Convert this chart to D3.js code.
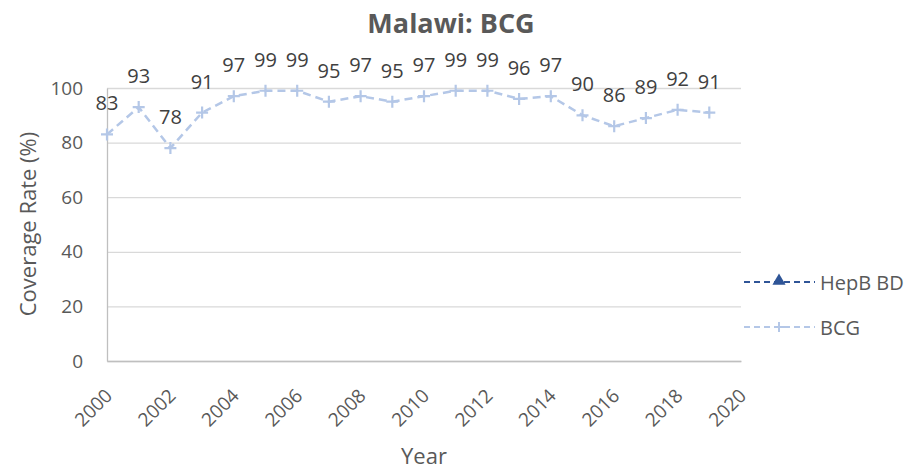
<!DOCTYPE html>
<html>
<head>
<meta charset="utf-8">
<script src="https://cdn.jsdelivr.net/npm/d3@7"></script>
<style>
  html, body { margin: 0; padding: 0; background: #fff; }
  svg { display: block; font-family: "Open Sans", "Noto Sans", sans-serif; }
</style>
</head>
<body>
<svg id="chart" width="908" height="469"></svg>
<script>
// Malawi BCG coverage by year
const years = [2000, 2001, 2002, 2003, 2004, 2005, 2006, 2007, 2008, 2009,
               2010, 2011, 2012, 2013, 2014, 2015, 2016, 2017, 2018, 2019];
const bcg = [83, 93, 78, 91, 97, 99, 99, 95, 97, 95,
             97, 99, 99, 96, 97, 90, 86, 89, 92, 91];
const hepbBD = []; // no reported values
const yTicks = [0, 20, 40, 60, 80, 100];
const xTicks = [2000, 2002, 2004, 2006, 2008, 2010, 2012, 2014, 2016, 2018, 2020];
const seriesNames = ["HepB BD", "BCG"];

const svg = d3.select("#chart");
const m = { left: 107, right: 741, top: 88, bottom: 361 };

const x = d3.scaleLinear().domain([2000, 2020]).range([m.left, m.right]);
const y = d3.scaleLinear().domain([0, 100]).range([m.bottom, m.top]);

// Title
svg.append("text")
  .attr("x", 451).attr("y", 33)
  .attr("text-anchor", "middle")
  .attr("font-size", 27).attr("font-weight", "bold")
  .attr("fill", "#595959")
  .text("Malawi: BCG");

// Horizontal gridlines
svg.append("g")
  .attr("transform", `translate(${m.left},0)`)
  .call(d3.axisLeft(y).tickValues(yTicks).tickSize(-(m.right - m.left)).tickFormat(""))
  .call(g => g.select(".domain").remove())
  .call(g => g.selectAll("line").attr("stroke", "#d9d9d9").attr("stroke-width", 1.3));

// Y axis labels
const yAxis = svg.append("g")
  .attr("transform", `translate(${m.left},0)`)
  .call(d3.axisLeft(y).tickValues(yTicks).tickSize(0).tickPadding(24));
yAxis.select(".domain").attr("stroke", "#bfbfbf").attr("stroke-width", 1.3);
yAxis.selectAll("text").attr("font-size", 19).attr("fill", "#595959")
  .attr("font-family", "Open Sans");

// X axis
const xAxis = svg.append("g")
  .attr("transform", `translate(0,${m.bottom})`)
  .call(d3.axisBottom(x).tickValues(xTicks).tickFormat(d3.format("d")).tickSize(0));
xAxis.select(".domain").attr("stroke", "#bfbfbf").attr("stroke-width", 1.3);
xAxis.selectAll("text")
  .attr("font-size", 19).attr("fill", "#595959").attr("font-family", "Open Sans")
  .attr("text-anchor", "end")
  .attr("dy", null)
  .attr("transform", "translate(1,31) rotate(-45)")
  .attr("y", 0)
  .attr("dominant-baseline", "central");

// Axis titles
svg.append("text")
  .attr("transform", "translate(36,224) rotate(-90)")
  .attr("text-anchor", "middle")
  .attr("font-size", 22).attr("fill", "#595959")
  .text("Coverage Rate (%)");

svg.append("text")
  .attr("x", 424).attr("y", 464)
  .attr("text-anchor", "middle")
  .attr("font-size", 22).attr("fill", "#595959")
  .text("Year");

// BCG line
const bcgColor = "#b4c7e7";
const hepColor = "#2f5597";
const pts = years.map((yr, i) => ({ yr, v: bcg[i] }));

svg.append("path")
  .datum(pts)
  .attr("fill", "none")
  .attr("stroke", bcgColor)
  .attr("stroke-width", 2.5)
  .attr("stroke-dasharray", "8,5")
  .attr("d", d3.line().x(d => x(d.yr)).y(d => y(d.v)));

// Plus markers
svg.append("g").selectAll("path")
  .data(pts).join("path")
  .attr("d", d => {
    const cx = x(d.yr), cy = y(d.v), r = 6;
    return `M${cx - r},${cy}H${cx + r}M${cx},${cy - r}V${cy + r}`;
  })
  .attr("stroke", bcgColor).attr("stroke-width", 2.2);

// Data labels
svg.append("g").selectAll("text")
  .data(pts).join("text")
  .attr("x", d => x(d.yr))
  .attr("y", d => y(d.v) - 24)
  .attr("text-anchor", "middle")
  .attr("font-size", 20).attr("fill", "#404040")
  .text(d => d.v);

// Legend
const legend = svg.append("g");
const legItems = [
  { name: seriesNames[0], color: hepColor, y: 282, marker: "tri" },
  { name: seriesNames[1], color: bcgColor, y: 327, marker: "plus" }
];
legItems.forEach(it => {
  legend.append("line")
    .attr("x1", 744).attr("x2", 815).attr("y1", it.y).attr("y2", it.y)
    .attr("stroke", it.color).attr("stroke-width", 2.2)
    .attr("stroke-dasharray", "6,4");
  if (it.marker === "tri") {
    legend.append("path")
      .attr("d", d3.symbol().type(d3.symbolTriangle).size(75))
      .attr("transform", `translate(779,${it.y - 1})`)
      .attr("fill", it.color);
  } else {
    legend.append("path")
      .attr("d", `M${774},${it.y}H${784}M${779},${it.y - 5}V${it.y + 5}`)
      .attr("stroke", it.color).attr("stroke-width", 2);
  }
  legend.append("text")
    .attr("x", 820).attr("y", it.y)
    .attr("dominant-baseline", "central")
    .attr("font-size", 20).attr("fill", "#595959")
    .text(it.name);
});
</script>
</body>
</html>
